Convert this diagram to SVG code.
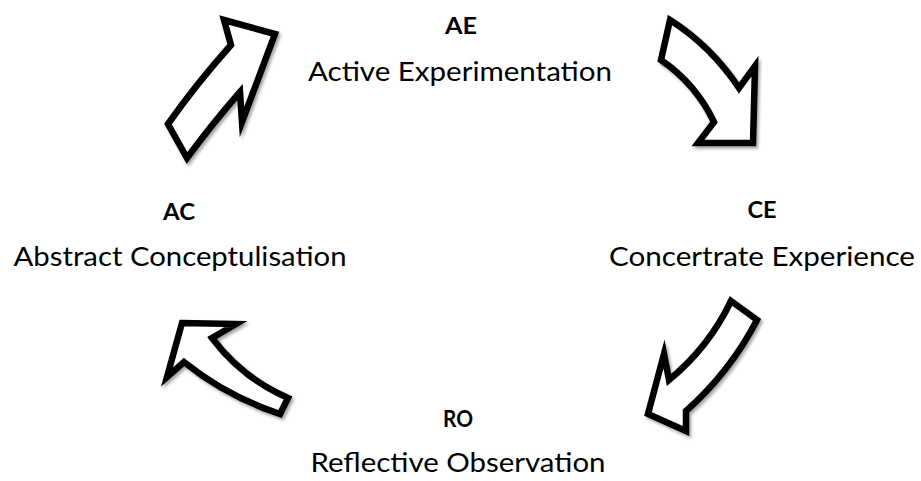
<svg xmlns="http://www.w3.org/2000/svg" width="921" height="481" viewBox="0 0 921 481">
<defs>
<style>
.arrow{fill:#fff;stroke:#000;stroke-width:6.5;stroke-linejoin:miter;stroke-miterlimit:10;filter:url(#sh)}
.abbr{font-family:Lato,"Open Sans","Liberation Sans",sans-serif;font-weight:bold;font-size:23.5px;fill:#000;text-anchor:middle}
.full{font-family:Lato,"Open Sans","Liberation Sans",sans-serif;font-size:27.5px;fill:#000;text-anchor:middle}
</style>
<filter id="sh" x="-20%" y="-20%" width="140%" height="140%">
<feDropShadow dx="2" dy="2.5" stdDeviation="1.8" flood-color="#000" flood-opacity="0.35"/>
</filter>
</defs>
<rect width="921" height="481" fill="#fff"/>
<g id="connectors">
<path id="arrow-ac-ae" class="arrow" d="M168,124 Q197,83 231,45 L224,20 L275,34 L242,122 L240,92 Q212,124 187,158 Z"/>
<path id="arrow-ae-ce" class="arrow" d="M670,20 Q711,46 739,88 L755,66 L753,143 L698,143 L714,122 Q696,84 661,60 Z"/>
<path id="arrow-ce-ro" class="arrow" d="M731,301 L757,320 Q730,372 686,411 L686,431 L648,414 L664,354 L669,380 Q709,347 731,301 Z"/>
<path id="arrow-ro-ac" class="arrow" d="M182,323 L236,324 L212,338 Q242,378 288,398 L280,414 Q226,396 184,362 L167,377 Z"/>
</g>
<g id="node-ae">
<text class="abbr" x="461" y="34" textLength="32" lengthAdjust="spacingAndGlyphs">AE</text>
<text class="full" x="460" y="81" textLength="304" lengthAdjust="spacingAndGlyphs">Active Experimentation</text>
</g>
<g id="node-ce">
<text class="abbr" x="762" y="218" textLength="29" lengthAdjust="spacingAndGlyphs">CE</text>
<text class="full" x="762" y="266" textLength="306" lengthAdjust="spacingAndGlyphs">Concertrate Experience</text>
</g>
<g id="node-ro">
<text class="abbr" x="458" y="427" textLength="30" lengthAdjust="spacingAndGlyphs">RO</text>
<text class="full" x="458" y="472" textLength="295" lengthAdjust="spacingAndGlyphs">Reflective Observation</text>
</g>
<g id="node-ac">
<text class="abbr" x="179" y="220" textLength="32" lengthAdjust="spacingAndGlyphs">AC</text>
<text class="full" x="180" y="266" textLength="333" lengthAdjust="spacingAndGlyphs">Abstract Conceptulisation</text>
</g>
</svg>
